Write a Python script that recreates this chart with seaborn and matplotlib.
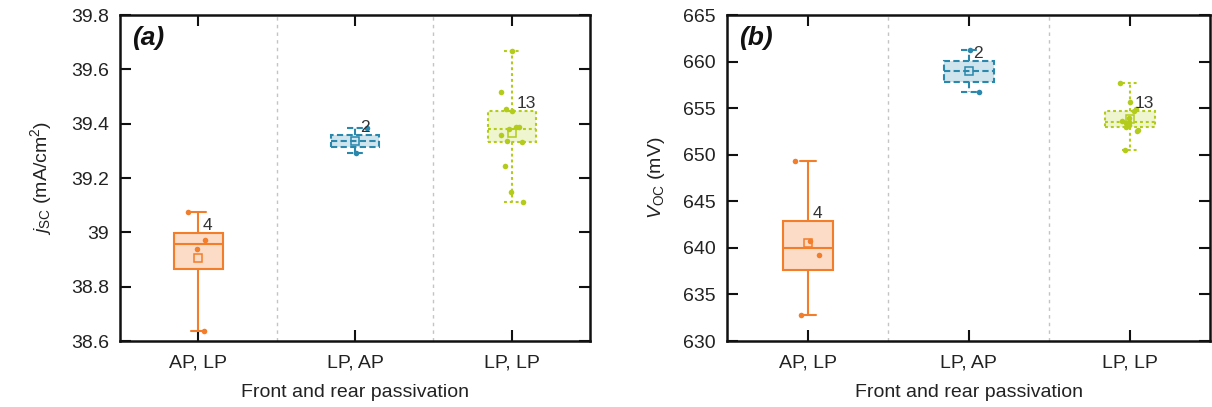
import numpy as np
import pandas as pd
import matplotlib
matplotlib.use("Agg")
import matplotlib.pyplot as plt
import seaborn as sns
from matplotlib.ticker import FuncFormatter

# ---- data -------------------------------------------------------------
categories = ["AP, LP", "LP, AP", "LP, LP"]

jsc_ap_lp = [39.075, 38.972, 38.939, 38.638]
jsc_lp_ap = [39.383, 39.291]
jsc_lp_lp = [39.669, 39.515, 39.453, 39.447, 39.389, 39.387, 39.380,
             39.359, 39.336, 39.334, 39.244, 39.147, 39.113]

voc_ap_lp = [649.3, 640.75, 639.25, 632.75]
voc_lp_ap = [661.25, 656.7]
voc_lp_lp = [657.68, 655.7, 654.9, 654.75, 654.0, 653.6, 653.5,
             653.4, 653.2, 653.03, 652.7, 652.6, 650.46]

jsc_ticks = [38.6, 38.8, 39.0, 39.2, 39.4, 39.6, 39.8]
voc_ticks = [630, 635, 640, 645, 650, 655, 660, 665]

# ---- styling ----------------------------------------------------------
edge_colors = ["#f27d2b", "#2a88ad", "#b3cc1c"]
fill_colors = ["#fcdcc6", "#cfe4ec", "#eef5cf"]
line_styles = ["-", (0, (3, 1.6)), (0, (1.4, 1.4))]
text_color = "#222222"

sns.set_theme(style="ticks")
plt.rcParams["font.family"] = ["Liberation Sans", "DejaVu Sans"]
plt.rcParams["mathtext.fontset"] = "custom"
plt.rcParams["mathtext.rm"] = "Liberation Sans"
plt.rcParams["mathtext.it"] = "Liberation Sans:italic"
plt.rcParams["mathtext.bf"] = "Liberation Sans:bold"
plt.rcParams["text.color"] = text_color
plt.rcParams["axes.labelcolor"] = text_color
plt.rcParams["xtick.color"] = "#111111"
plt.rcParams["ytick.color"] = "#111111"
plt.rcParams["xtick.labelcolor"] = text_color
plt.rcParams["ytick.labelcolor"] = text_color

np.random.seed(7)

fig = plt.figure(figsize=(12.12, 4.07), dpi=100)
ax1 = fig.add_axes([0.099, 0.162, 0.388, 0.801])
ax2 = fig.add_axes([0.600, 0.162, 0.3985, 0.801])


def draw_panel(ax, groups, ticks, ylabel, tag):
    for i, (cat, vals) in enumerate(zip(categories, groups)):
        df = pd.DataFrame({"group": cat, "value": vals})
        ls = line_styles[i]
        edge = edge_colors[i]
        sns.boxplot(
            data=df, x="group", y="value", order=categories, ax=ax,
            width=0.31, whis=(0, 100), color=fill_colors[i], linecolor=edge,
            saturation=1, linewidth=1.5, showfliers=False, showmeans=True,
            meanprops=dict(marker="s", markerfacecolor="none",
                           markeredgecolor=edge, markersize=5.5,
                           markeredgewidth=1.1),
            boxprops=dict(linestyle=ls),
            whiskerprops=dict(linestyle=ls),
            capprops=dict(linestyle=ls),
            medianprops=dict(linestyle=ls, color=edge),
            capwidths=0.1,
        )
        sns.stripplot(
            data=df, x="group", y="value", order=categories, ax=ax,
            color=edge, size=4, jitter=0.08, linewidth=0, zorder=4,
        )
        ax.text(i + 0.03, np.percentile(vals, 75), str(len(vals)),
                ha="left", va="bottom", fontsize=12.5, color="#333333",
                zorder=5)

    for xs in (0.5, 1.5):
        ax.axvline(xs, color="#c4c4c4", lw=1, ls=(0, (2.5, 3)), zorder=0)

    ax.set_xlim(-0.5, 2.5)
    ax.set_ylim(ticks[0], ticks[-1])
    ax.set_yticks(ticks)
    ax.yaxis.set_major_formatter(FuncFormatter(lambda v, p: f"{v:g}"))
    ax.tick_params(direction="in", length=8, width=1.5, top=True,
                   right=True, labelsize=14)
    ax.tick_params(axis="x", pad=10)
    ax.tick_params(axis="y", pad=8)
    for sp in ax.spines.values():
        sp.set_linewidth(1.8)
        sp.set_color("#111111")
    ax.set_xlabel("Front and rear passivation", fontsize=14, labelpad=9)
    ax.set_ylabel(ylabel, fontsize=14, labelpad=12)
    ax.text(0.025, 0.965, tag, transform=ax.transAxes, ha="left",
            va="top", fontsize=19, fontweight="bold", fontstyle="italic",
            color="#111111")


draw_panel(ax1, [jsc_ap_lp, jsc_lp_ap, jsc_lp_lp], jsc_ticks,
           r"$j_\mathrm{SC}$ (mA/cm$^2$)", "(a)")
draw_panel(ax2, [voc_ap_lp, voc_lp_ap, voc_lp_lp], voc_ticks,
           r"$V_\mathrm{OC}$ (mV)", "(b)")

fig.savefig("out.png", dpi=100)
